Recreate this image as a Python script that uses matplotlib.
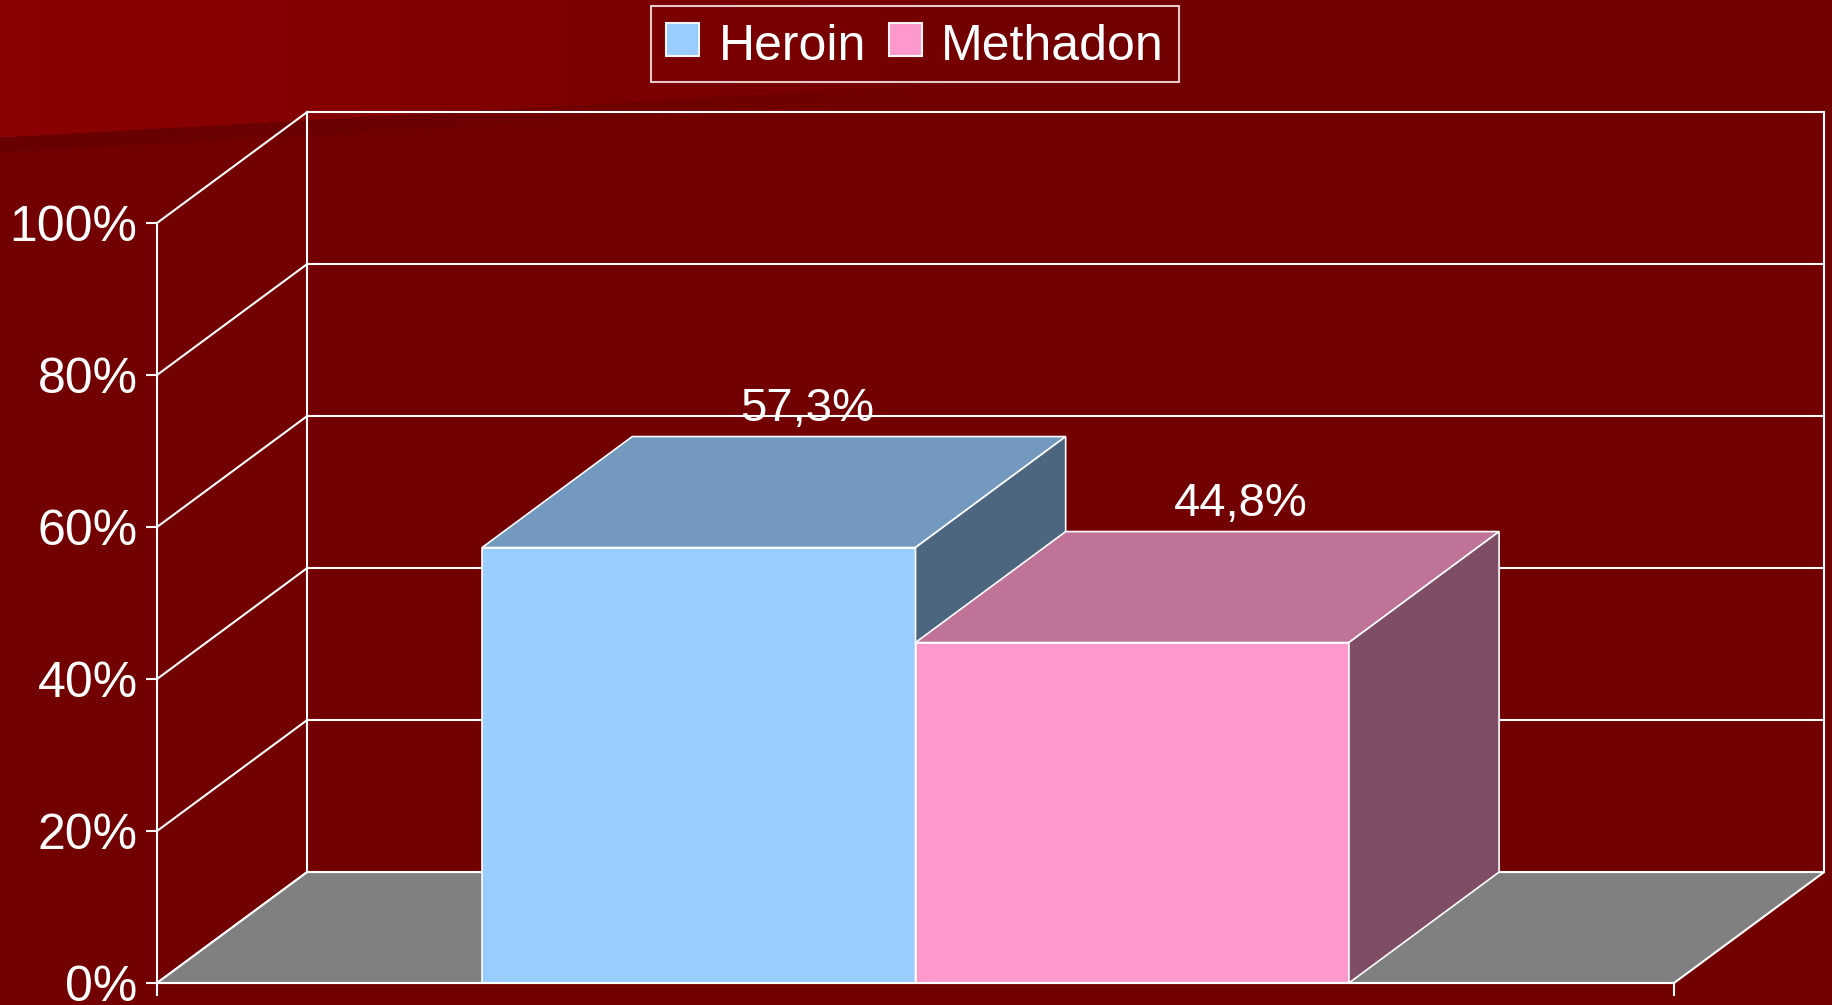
import numpy as np
import matplotlib.pyplot as plt
from matplotlib.patches import Polygon, Patch

plt.rcParams['font.family'] = ['Liberation Sans', 'DejaVu Sans']

# data
series = ["Heroin", "Methadon"]
values = [57.3, 44.8]
front_cols = ["#99CCFF", "#FF99CC"]
top_cols = ["#7399BF", "#BF7399"]
side_cols = ["#4D6680", "#804D66"]
yticks = [0, 20, 40, 60, 80, 100]

# 3d look: depth offset in data units
DX = 0.099
DY = 14.6
W, H = 1832, 1005

fig = plt.figure(figsize=(W / 100, H / 100), dpi=100)

# background (dark red with lighter top-left band)
yy, xx = np.mgrid[0:H, 0:W].astype(float)
img = np.zeros((H, W, 3))
img[..., 0] = 115 / 255
edge = 137 - 0.056 * xx
t = np.clip(xx / 1000, 0, 1)
upper = yy < edge
img[..., 0] = np.where(upper, (140 * (1 - t) + 115 * t) / 255, img[..., 0])
band = (yy >= edge) & (yy < edge + 15)
img[..., 0] = np.where(band, (104 * (1 - t) + 115 * t) / 255, img[..., 0])
bg = fig.add_axes([0, 0, 1, 1])
bg.imshow(img, aspect='auto', interpolation='nearest')
bg.axis('off')

ax = fig.add_axes([157 / W, 1 - 983 / H, 1517 / W, 760 / H])
ax.set_facecolor('none')
ax.set_xlim(0, 1)
ax.set_ylim(0, 100)

wl = 1.5
# back wall + side wall lines
for v in yticks:
    ax.plot([DX, 1 + DX], [v + DY, v + DY], color='white', lw=wl, clip_on=False, zorder=1)
    ax.plot([0, DX], [v, v + DY], color='white', lw=wl, clip_on=False, zorder=1)
ax.plot([DX, DX], [DY, 100 + DY], color='white', lw=wl, clip_on=False, zorder=1)
ax.plot([1 + DX, 1 + DX], [DY, 100 + DY], color='white', lw=wl, clip_on=False, zorder=1)

# floor
ax.add_patch(Polygon([(0, 0), (1, 0), (1 + DX, DY), (DX, DY)], closed=True,
                     facecolor='#808080', edgecolor='white', lw=wl, clip_on=False, zorder=2))

# bars
n = len(values)
bw = 1 / (n + 1.5)
x_start = 0.75 * bw
for i, v in enumerate(values):
    x0 = x_start + i * bw
    x1 = x0 + bw
    kw = dict(closed=True, edgecolor='white', lw=1.2, clip_on=False, zorder=3 + i)
    ax.add_patch(Polygon([(x0, 0), (x1, 0), (x1, v), (x0, v)], facecolor=front_cols[i], **kw))
    ax.add_patch(Polygon([(x0, v), (x1, v), (x1 + DX, v + DY), (x0 + DX, v + DY)],
                         facecolor=top_cols[i], **kw))
    ax.add_patch(Polygon([(x1, 0), (x1 + DX, DY), (x1 + DX, v + DY), (x1, v)],
                         facecolor=side_cols[i], **kw))
    lab = f"{v:.1f}".replace('.', ',') + '%'
    ax.text((x0 + x1) / 2 + 0.72 * DX, v + DY + 2.1, lab, color='white', fontsize=34,
            ha='center', va='baseline', zorder=10, clip_on=False)

# axes
for s in ['top', 'right']:
    ax.spines[s].set_visible(False)
for s in ['left', 'bottom']:
    ax.spines[s].set_color('white')
    ax.spines[s].set_linewidth(wl)
    ax.spines[s].set_zorder(6)
ax.set_yticks(yticks)
ax.set_yticklabels([f"{v}%" for v in yticks])
ax.set_xticks([0, 1])
ax.set_xticklabels(['', ''])
ax.tick_params(axis='y', colors='white', labelsize=36, length=8, width=wl, pad=6)
ax.tick_params(axis='x', colors='white', length=9.5, width=wl)

handles = [Patch(facecolor=c, edgecolor='#f4f4f4', lw=1.5) for c in front_cols]
leg = fig.legend(handles, series, loc='upper center', bbox_to_anchor=(915 / W, 1 - 6 / H),
                 ncol=2, frameon=True, fancybox=False, edgecolor='white', facecolor='none',
                 fontsize=36, labelcolor='white', handlelength=0.66, handleheight=0.62,
                 handletextpad=0.38, columnspacing=0.46, borderpad=0.3, borderaxespad=0)
leg.get_frame().set_linewidth(1.5)
for txt in leg.get_texts():
    txt.set_y(-3)

plt.savefig('out.png', dpi=100)
